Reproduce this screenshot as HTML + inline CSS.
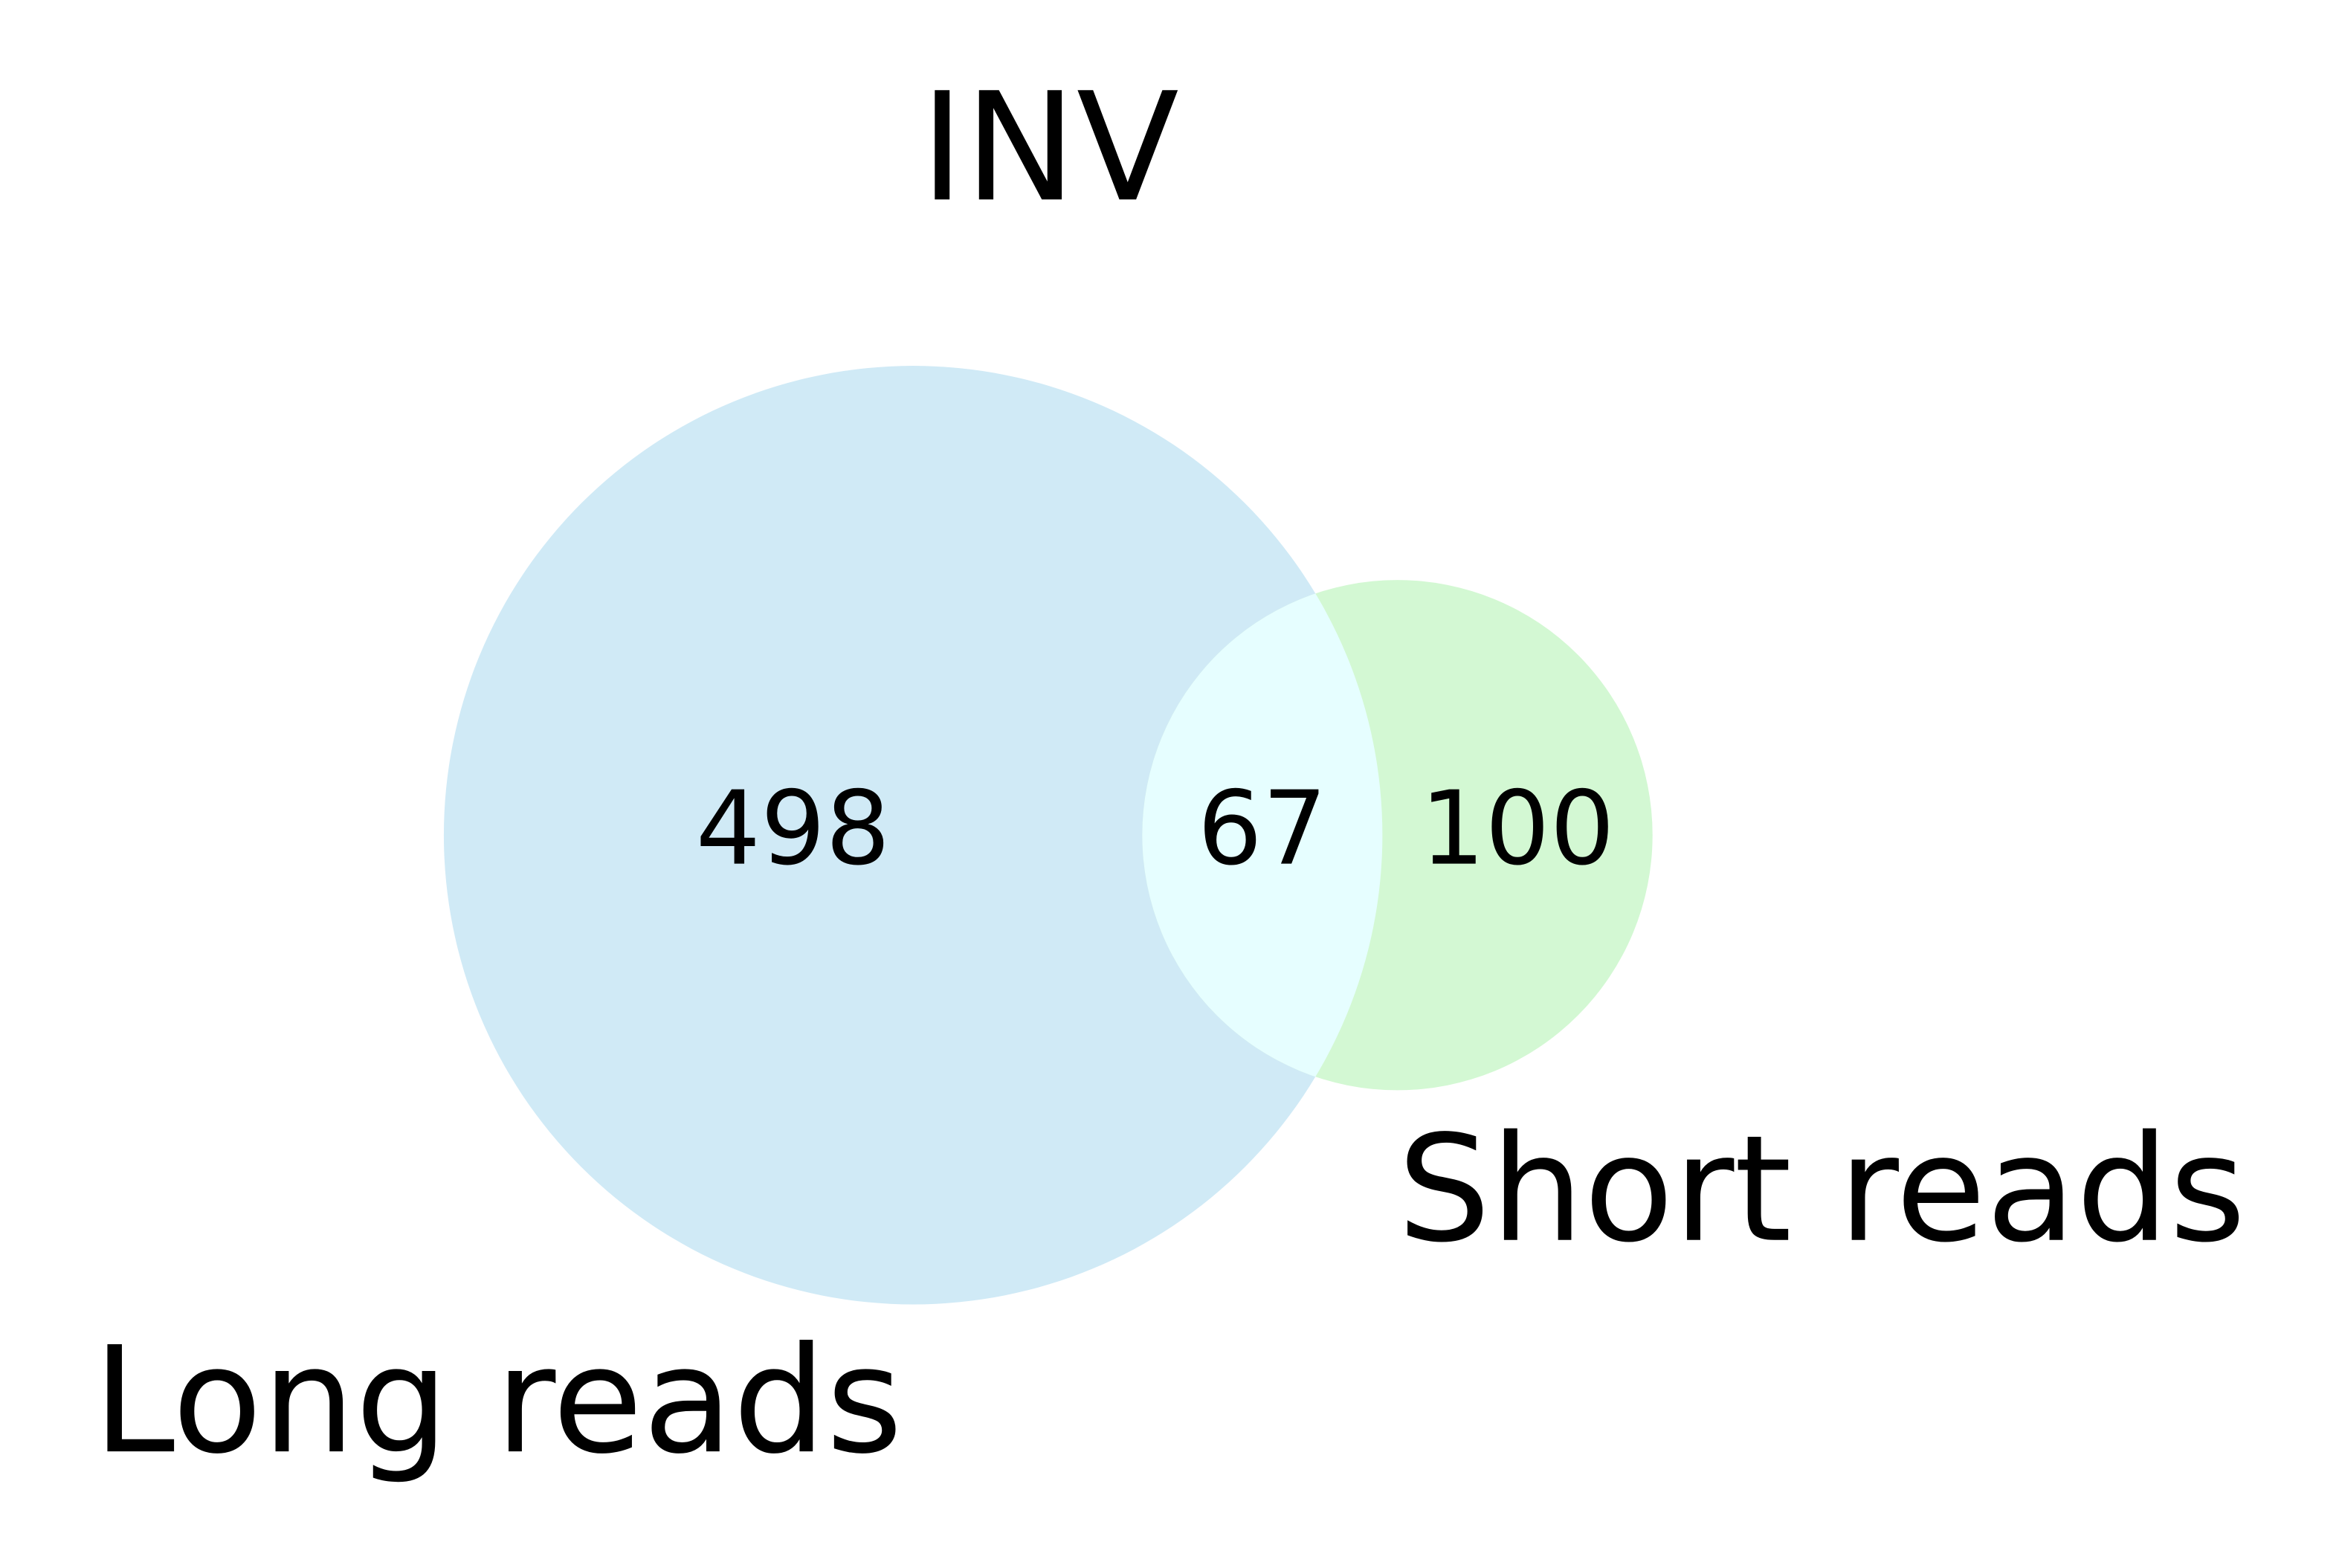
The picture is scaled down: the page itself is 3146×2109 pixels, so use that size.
<!DOCTYPE html>
<html><head><meta charset="utf-8">
<style>
html,body{margin:0;padding:0;background:#fff;}
svg{display:block;}
text{font-family:"DejaVu Sans","Liberation Sans",sans-serif;fill:#000;}
</style></head>
<body>
<svg id="chart" width="3146" height="2109" viewBox="0 0 1560 1045.8" xmlns="http://www.w3.org/2000/svg">
<defs><clipPath id="clipA"><circle id="clipCircle" cx="0" cy="0" r="0"/></clipPath></defs>
<text x="700" y="133" font-size="100" text-anchor="middle">INV</text>
<g id="marks"></g>
<text x="62" y="968" font-size="98">Long reads</text>
<text x="932" y="827" font-size="98">Short reads</text>
</svg>
<script>
const setNames = ["Long reads", "Short reads"];
const regionLabels = ["only-long", "both", "only-short"];
const regionValues = [498, 67, 100];

const ns = "http://www.w3.org/2000/svg";
const g = document.getElementById("marks");
const totalA = regionValues[0] + regionValues[1];
const totalB = regionValues[2] + regionValues[1];
const k = 313 / Math.sqrt(565);
const rA = k * Math.sqrt(totalA), rB = k * Math.sqrt(totalB);
const cy = 557, cxA = 609, cxB = 932;

const cA = document.createElementNS(ns, "circle");


cA.setAttribute("cx", cxA); cA.setAttribute("cy", cy); cA.setAttribute("r", rA);
cA.setAttribute("fill", "#d0eaf6");
g.appendChild(cA);

const cB = document.createElementNS(ns, "circle");


cB.setAttribute("cx", cxB); cB.setAttribute("cy", cy); cB.setAttribute("r", rB);
cB.setAttribute("fill", "#d3f8d3");
g.appendChild(cB);

const clip = document.getElementById("clipCircle");
clip.setAttribute("cx", cxA); clip.setAttribute("cy", cy); clip.setAttribute("r", rA);
const cI = document.createElementNS(ns, "circle");


cI.setAttribute("cx", cxB); cI.setAttribute("cy", cy); cI.setAttribute("r", rB);
cI.setAttribute("fill", "#e6feff");
cI.setAttribute("clip-path", "url(#clipA)");
g.appendChild(cI);

const leftEdgeB = cxB - rB, rightEdgeA = cxA + rA;
const xs = [ (cxA - rA + leftEdgeB) / 2, (leftEdgeB + rightEdgeA) / 2, (rightEdgeA + cxB + rB) / 2 ];
regionValues.forEach((v, i) => {
  const t = document.createElementNS(ns, "text");
  
  
  t.setAttribute("x", xs[i]); t.setAttribute("y", 576);
  t.setAttribute("font-size", "68"); t.setAttribute("text-anchor", "middle");
  t.textContent = v;
  g.appendChild(t);
});
</script>
</body></html>
